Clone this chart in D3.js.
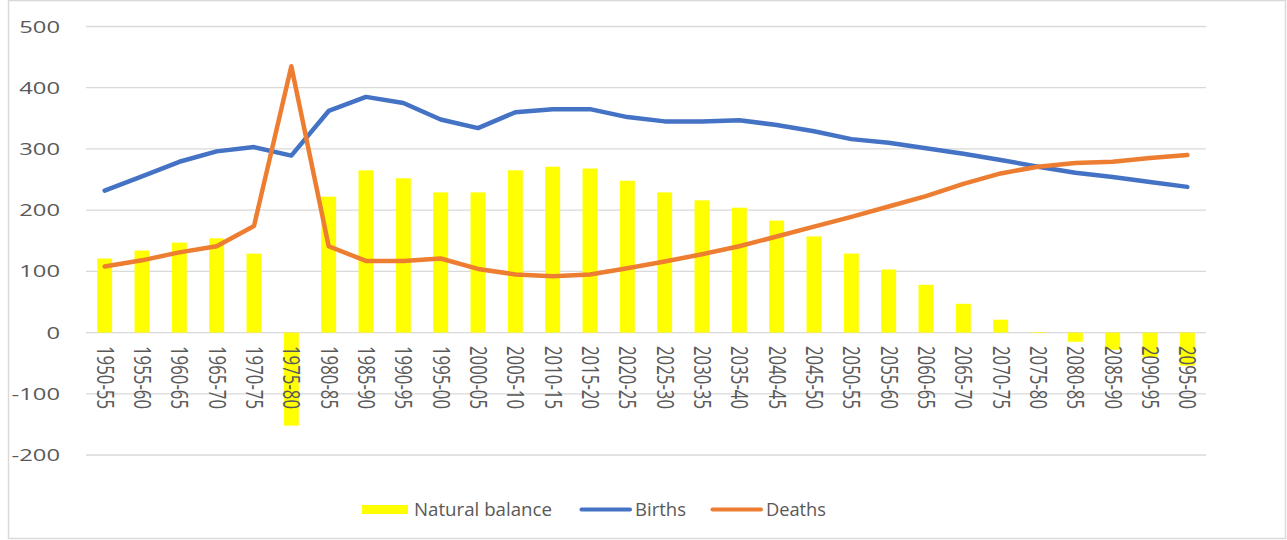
<!DOCTYPE html>
<html>
<head>
<meta charset="utf-8">
<script src="https://cdn.jsdelivr.net/npm/d3@7"></script>
<style>
  html, body { margin: 0; padding: 0; background: #ffffff; }
  svg { display: block; }
  text { font-family: "Open Sans", "Noto Sans", sans-serif; fill: #595959; }
</style>
</head>
<body>
<svg id="chart" width="1287" height="540"></svg>
<script>
// Five-year periods
const periods = [
  "1950-55","1955-60","1960-65","1965-70","1970-75","1975-80","1980-85","1985-90",
  "1990-95","1995-00","2000-05","2005-10","2010-15","2015-20","2020-25","2025-30",
  "2030-35","2035-40","2040-45","2045-50","2050-55","2055-60","2060-65","2065-70",
  "2070-75","2075-80","2080-85","2085-90","2090-95","2095-00"
];

// Natural balance (births minus deaths), drawn as bars
const naturalBalance = [
  121, 134, 147, 154, 129, -152, 222, 265,
  252, 229, 229, 265, 271, 268, 248, 229,
  216, 204, 183, 157, 129, 103, 78, 47,
  21, 1, -15, -28, -40, -54
];

// Births per period
const births = [
  232, 255, 279, 296, 303, 289, 362, 385,
  375, 348, 334, 360, 365, 365, 352, 345,
  345, 347, 339, 329, 316, 310, 301, 292,
  282, 271, 261, 254, 246, 238
];

// Deaths per period
const deaths = [
  108, 118, 131, 141, 174, 435, 141, 117,
  117, 121, 104, 95, 92, 95, 105, 116,
  128, 141, 157, 173, 189, 206, 223, 243,
  260, 271, 277, 279, 285, 290
];

const yTicks = [-200, -100, 0, 100, 200, 300, 400, 500];

const legendItems = [
  { label: "Natural balance", kind: "bar",  color: "#FFFF00", width: 138 },
  { label: "Births",          kind: "line", color: "#4472C4", width: 51 },
  { label: "Deaths",          kind: "line", color: "#ED7D31", width: 60 }
];

const svg = d3.select("#chart");

// Chart frame
svg.append("rect")
  .attr("x", 8.5).attr("y", 0.5)
  .attr("width", 1277).attr("height", 538)
  .attr("fill", "#ffffff")
  .attr("stroke", "#d9d9d9").attr("stroke-width", 1.5);

const plot = { left: 86, right: 1206, top: 26.5, bottom: 455 };

const x = d3.scaleBand()
  .domain(periods)
  .range([plot.left, plot.right])
  .paddingInner(0.6)
  .paddingOuter(0.3);

const y = d3.scaleLinear()
  .domain([-200, 500])
  .range([plot.bottom, plot.top]);

const cx = d => x(d) + x.bandwidth() / 2;

// Horizontal gridlines
svg.append("g")
  .selectAll("line")
  .data(yTicks)
  .join("line")
  .attr("x1", plot.left).attr("x2", plot.right)
  .attr("y1", d => y(d)).attr("y2", d => y(d))
  .attr("stroke", "#d9d9d9").attr("stroke-width", 1.3);

// Y axis labels (wide face)
svg.append("g")
  .selectAll("text")
  .data(yTicks)
  .join("text")
  .attr("transform", d => `translate(60,${y(d) + 6}) scale(1.4,1)`)
  .attr("text-anchor", "end")
  .attr("font-size", 17)
  .text(d => d);

// Natural balance bars
svg.append("g")
  .selectAll("rect")
  .data(periods.map((p, i) => ({ p, v: naturalBalance[i] })))
  .join("rect")
  .attr("x", d => x(d.p))
  .attr("width", x.bandwidth())
  .attr("y", d => y(Math.max(0, d.v)))
  .attr("height", d => Math.abs(y(d.v) - y(0)))
  .attr("fill", "#FFFF00");

// Category labels, rotated to read top-to-bottom
svg.append("g")
  .selectAll("text")
  .data(periods)
  .join("text")
  .attr("transform", d => `translate(${cx(d) - 8},346) scale(1.2,1) rotate(90)`)
  .attr("text-anchor", "start")
  .attr("font-size", 19)
  .attr("textLength", 63)
  .attr("lengthAdjust", "spacingAndGlyphs")
  .text(d => d);

// Lines
const line = d3.line()
  .x((d, i) => cx(periods[i]))
  .y(d => y(d));

svg.append("path")
  .datum(births)
  .attr("d", line)
  .attr("fill", "none")
  .attr("stroke", "#4472C4")
  .attr("stroke-width", 4.5)
  .attr("stroke-linejoin", "round")
  .attr("stroke-linecap", "round");

svg.append("path")
  .datum(deaths)
  .attr("d", line)
  .attr("fill", "none")
  .attr("stroke", "#ED7D31")
  .attr("stroke-width", 4.5)
  .attr("stroke-linejoin", "round")
  .attr("stroke-linecap", "round");

// Legend
const legendX = [362, 580, 711];
const legend = svg.append("g");
legendItems.forEach((item, i) => {
  const g = legend.append("g").attr("transform", `translate(${legendX[i]},509.5)`);
  if (item.kind === "bar") {
    g.append("rect")
      .attr("x", 0).attr("y", -4.5)
      .attr("width", 46).attr("height", 9)
      .attr("fill", item.color);
  } else {
    g.append("line")
      .attr("x1", 1.5).attr("x2", 50)
      .attr("y1", 0).attr("y2", 0)
      .attr("stroke", item.color)
      .attr("stroke-width", 4)
      .attr("stroke-linecap", "round");
  }
  g.append("text")
    .attr("x", item.kind === "bar" ? 52 : 55)
    .attr("y", 6.5)
    .attr("font-size", 18)
    .attr("textLength", item.width)
    .attr("lengthAdjust", "spacingAndGlyphs")
    .text(item.label);
});
</script>
</body>
</html>
